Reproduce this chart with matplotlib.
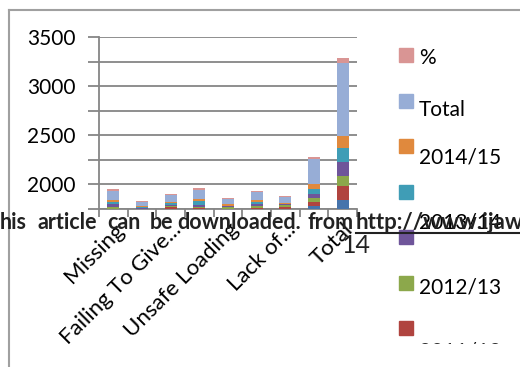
import numpy as np
import matplotlib.pyplot as plt
from matplotlib.patches import Rectangle
from matplotlib.lines import Line2D

plt.rcParams['font.family'] = ['Lato', 'DejaVu Sans']

# categorias (solo se rotulan una de cada dos)
etiquetas = ["Missing", "", "Failing To Give...", "", "Unsafe Loading", "", "Lack of...", "", "Total"]

# series apiladas, de abajo a arriba
s_2010 = [1690, 1690, 1690, 1690, 1690, 1690, 1690, 1779, 1837]
s_2011 = [55, 45, 75, 65, 58, 70, 80, 40, 143]
s_2012 = [25, 15, 12, 10, 18, 12, 15, 35, 102]
s_2013 = [23, 8, 10, 25, 5, 20, 6, 47, 142]
s_vacia = [26, 5, 15, 40, 8, 25, 6, 48, 143]
s_2014 = [18, 10, 17, 14, 17, 20, 12, 51, 123]
s_total = [95, 45, 66, 98, 51, 81, 55, 255, 745]
s_pct = [14, 9, 13, 14, 7, 11, 10, 20, 51]

series = [s_2010, s_2011, s_2012, s_2013, s_vacia, s_2014, s_total, s_pct]
colores = ["#4674AC", "#B0443F", "#8CA84B", "#6F559A", "#3F9DB6", "#E0893D", "#97ADD6", "#D99594"]

# leyenda tal como aparece (las etiquetas estan desplazadas en el original)
ley_colores = ["#D99594", "#97ADD6", "#E0893D", "#3F9DB6", "#6F559A", "#8CA84B", "#B0443F"]
ley_textos = ["%", "Total", "2014/15", "2013/14", "2012/13", "2011/12"]

W, H = 520, 367
fig = plt.figure(figsize=(5.2, 3.67), dpi=100)

def fx(x):
    return x / W

def fy(y):
    return 1 - y / H

ax = fig.add_axes([fx(99), fy(208.5), fx(357) - fx(99), fy(37) - fy(208.5)])

x = np.arange(len(etiquetas))
base = np.zeros(len(etiquetas))
for vals, c in zip(series, colores):
    ax.bar(x, vals, bottom=base, width=0.42, color=c, zorder=3)
    base = base + np.array(vals)

gris = "#868686"
ax.set_ylim(1750, 3500)
ax.set_xlim(-0.5, len(etiquetas) - 0.5)
ax.set_yticks(np.arange(2000, 3501, 500))
ax.set_yticks(np.arange(1750, 3501, 250), minor=True)
ax.yaxis.grid(True, which='both', color=gris, linewidth=1.3, zorder=0)
ax.tick_params(axis='y', which='both', length=8, width=1.3, color=gris,
               labelsize=15, pad=9)
ax.set_xticks(x)
ax.set_xticklabels(etiquetas, rotation=45, ha='right', rotation_mode='anchor', fontsize=16)
ax.set_xticks(np.arange(-0.5, len(etiquetas), 1), minor=True)
ax.tick_params(axis='x', which='major', length=0, pad=8)
ax.tick_params(axis='x', which='minor', length=6, width=1.3, color=gris)
for lado in ['top', 'right']:
    ax.spines[lado].set_visible(False)
for lado in ['left', 'bottom']:
    ax.spines[lado].set_color(gris)
    ax.spines[lado].set_linewidth(1.3)

# marco del grafico
fig.add_artist(Line2D([fx(9), fx(9)], [fy(10), 0], color="#A0A0A0", lw=1.5))
fig.add_artist(Line2D([fx(9), 1], [fy(10), fy(10)], color="#A0A0A0", lw=1.5))

# leyenda manual
for i, c in enumerate(ley_colores):
    yc = 55 + i * 45.5
    fig.add_artist(Rectangle((fx(399), fy(yc + 7)), fx(14), 14 / H, color=c))
ley_y = [58, 110, 157, 222, 287, 352]
for t, yy in zip(ley_textos, ley_y):
    fig.text(fx(419), fy(yy), t, fontsize=15, va='center', ha='left', color="black")
fig.add_artist(Rectangle((fx(395), 0), 1, fy(344), color="white", zorder=5))

# texto superpuesto de la pagina
palabras = [("his", 0), ("article", 37), ("can", 107), ("be", 150),
            ("downloaded.", 177), ("from", 308)]
for t, xx in palabras:
    fig.text(fx(xx), fy(229), t, fontsize=15.5, fontweight='bold', color="#222222",
             va='baseline', ha='left', zorder=6)
fig.text(fx(356), fy(229), "http://www.ijaweb.org", fontsize=16, fontweight='bold',
         color="#222222", va='baseline', ha='left', zorder=6)
fig.add_artist(Line2D([fx(356), 1], [fy(232.5), fy(232.5)], color="#222222", lw=1.5, zorder=6))
fig.text(fx(342), fy(253), "14", fontsize=18, color="#222222", va='baseline', ha='left')

fig.savefig("out.png", dpi=100)
